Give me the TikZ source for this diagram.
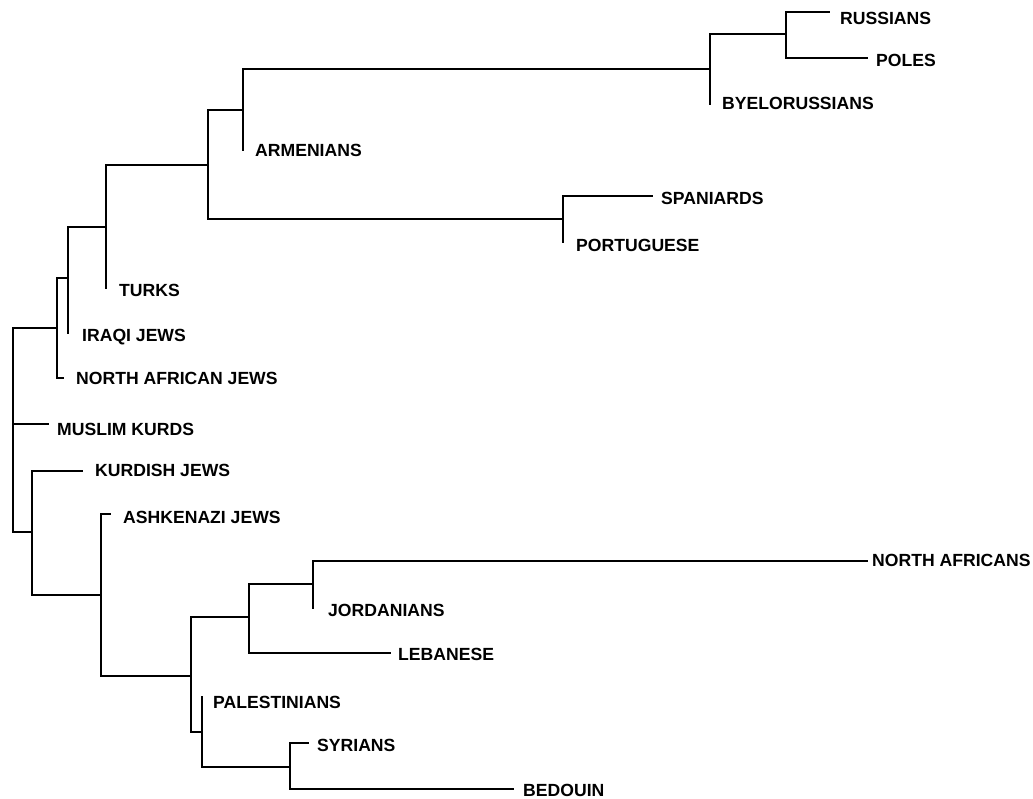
\documentclass[tikz,border=0pt]{standalone}
\usepackage{fontspec}
\setmainfont{Liberation Sans}
\begin{document}
\begin{tikzpicture}[x=1pt,y=-1pt,
  branch/.style={draw=black,line width=1.2pt,line cap=rect},
  taxon/.style={anchor=west,inner sep=0pt,text depth=0pt,font=\fontsize{17.6}{20}\selectfont\bfseries}]
\useasboundingbox (0,0) rectangle (1033,799);
% internal nodes (x of vertical, y of incoming branch)
\coordinate (R)   at (13,424);
\coordinate (N1)  at (57,328);
\coordinate (N2)  at (68,278);
\coordinate (N3)  at (106,227);
\coordinate (N4)  at (208,165);
\coordinate (N5)  at (243,110);
\coordinate (N6)  at (710,69);
\coordinate (N7)  at (786,34);
\coordinate (N8)  at (563,219);
\coordinate (N9)  at (32,532);
\coordinate (N10) at (101,595);
\coordinate (N11) at (191,676);
\coordinate (N12) at (249,617);
\coordinate (N13) at (313,584);
\coordinate (N14) at (202,732);
\coordinate (N15) at (290,767);
% leaf ends
\coordinate (lRus) at (829,12);
\coordinate (lPol) at (867,58);
\coordinate (lBye) at (710,104);
\coordinate (lArm) at (243,150);
\coordinate (lSpa) at (652,196);
\coordinate (lPor) at (563,242);
\coordinate (lTur) at (106,288);
\coordinate (lIraq) at (68,333);
\coordinate (lNAJ) at (63,378);
\coordinate (lMK) at (48,424);
\coordinate (lKJ) at (82,471);
\coordinate (lAsh) at (110,514);
\coordinate (lNA) at (867,561);
\coordinate (lJor) at (313,608);
\coordinate (lLeb) at (390,653);
\coordinate (lPal) at (202,697);
\coordinate (lSyr) at (308,743);
\coordinate (lBed) at (513,789);
% branches
\draw[branch] (R) |- (N1);
\draw[branch] (R) -- (lMK);
\draw[branch] (R) |- (N9);
\draw[branch] (N1) |- (N2);
\draw[branch] (N1) |- (lNAJ);
\draw[branch] (N2) |- (N3);
\draw[branch] (N2) |- (lIraq);
\draw[branch] (N3) |- (N4);
\draw[branch] (N3) |- (lTur);
\draw[branch] (N4) |- (N5);
\draw[branch] (N4) |- (N8);
\draw[branch] (N5) |- (N6);
\draw[branch] (N5) |- (lArm);
\draw[branch] (N6) |- (N7);
\draw[branch] (N6) |- (lBye);
\draw[branch] (N7) |- (lRus);
\draw[branch] (N7) |- (lPol);
\draw[branch] (N8) |- (lSpa);
\draw[branch] (N8) |- (lPor);
\draw[branch] (N9) |- (lKJ);
\draw[branch] (N9) |- (N10);
\draw[branch] (N10) |- (lAsh);
\draw[branch] (N10) |- (N11);
\draw[branch] (N11) |- (N12);
\draw[branch] (N11) |- (N14);
\draw[branch] (N12) |- (N13);
\draw[branch] (N12) |- (lLeb);
\draw[branch] (N13) |- (lNA);
\draw[branch] (N13) |- (lJor);
\draw[branch] (N14) |- (lPal);
\draw[branch] (N14) |- (N15);
\draw[branch] (N15) |- (lSyr);
\draw[branch] (N15) |- (lBed);
% labels
\node[taxon] (tRus) at (840,18) {RUSSIANS};
\node[taxon] (tPol) at (876,60) {POLES};
\node[taxon] (tBye) at (722,103) {BYELORUSSIANS};
\node[taxon] (tArm) at (255,150) {ARMENIANS};
\node[taxon] (tSpa) at (661,198) {SPANIARDS};
\node[taxon] (tPor) at (576,245) {PORTUGUESE};
\node[taxon] (tTur) at (119,290) {TURKS};
\node[taxon] (tIraq) at (82,335) {IRAQI JEWS};
\node[taxon] (tNAJ) at (76,378) {NORTH AFRICAN JEWS};
\node[taxon] (tMK) at (57,429) {MUSLIM KURDS};
\node[taxon] (tKJ) at (95,470) {KURDISH JEWS};
\node[taxon] (tAsh) at (123,517) {ASHKENAZI JEWS};
\node[taxon] (tNA) at (872,560) {NORTH AFRICANS};
\node[taxon] (tJor) at (328,610) {JORDANIANS};
\node[taxon] (tLeb) at (398,654) {LEBANESE};
\node[taxon] (tPal) at (213,702) {PALESTINIANS};
\node[taxon] (tSyr) at (317,745) {SYRIANS};
\node[taxon] (tBed) at (523,790) {BEDOUIN};
\end{tikzpicture}
\end{document}
